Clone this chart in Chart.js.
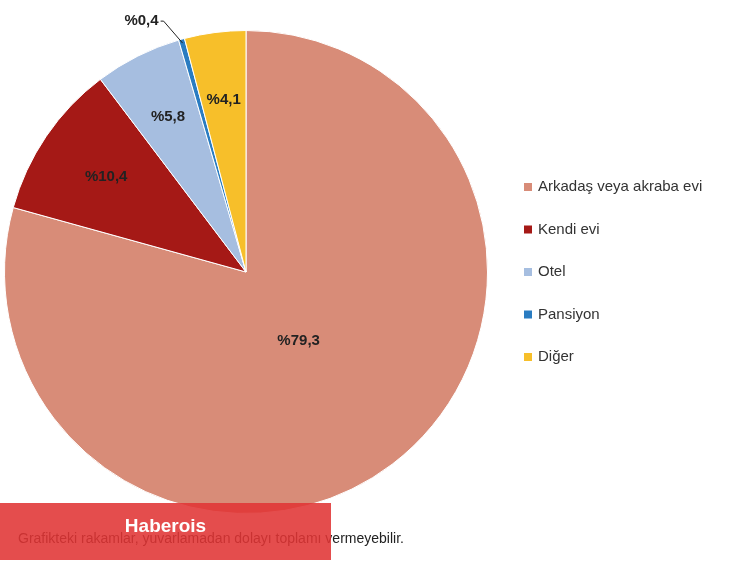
<!DOCTYPE html>
<html>
<head>
<meta charset="utf-8">
<script src="https://cdn.jsdelivr.net/npm/chart.js@4"></script>
<style>
  body { margin: 0; background: #fff; }
  #wrap { position: relative; width: 750px; height: 562px; }
  #note { position: absolute; left: 18px; top: 530px; font: 14px Arial, "Liberation Sans", sans-serif; color: #222; }
  #mark { position: absolute; left: 0; top: 503px; width: 331px; height: 57px; background: rgba(224, 52, 52, 0.88); }
  #mark span { position: absolute; left: 0; width: 331px; top: 12px; text-align: center; font: bold 19px Arial, "Liberation Sans", sans-serif; color: #fff; }
</style>
</head>
<body>
<div id="wrap">
  <canvas id="chartCanvas" width="750" height="562"></canvas>
  <div id="note">Grafikteki rakamlar, yuvarlamadan dolayı toplamı vermeyebilir.</div>
  <div id="mark"><span>Haberois</span></div>
</div>
<script>
// chart data
const categories = ["Arkadaş veya akraba evi", "Kendi evi", "Otel", "Pansiyon", "Diğer"];
const shares = [79.3, 10.4, 5.8, 0.4, 4.1];
const valueLabels = ["%79,3", "%10,4", "%5,8", "%0,4", "%4,1"];
const colors = ["#D88C78", "#A51916", "#A6BEE0", "#2A7CC1", "#F7BF2A"];

// slice labels
const labelPlugin = {
  id: "sliceLabels",
  afterDatasetsDraw(chart) {
    const ctx = chart.ctx;
    const arcs = chart.getDatasetMeta(0).data;
    const fractions = [0.36, 0.7, 0.72, 0, 0.72];
    ctx.save();
    ctx.font = "bold 15px Arial, 'Liberation Sans', sans-serif";
    ctx.fillStyle = "#222";
    ctx.textAlign = "center";
    ctx.textBaseline = "middle";
    arcs.forEach((arc, i) => {
      const mid = (arc.startAngle + arc.endAngle) / 2;
      if (i === 3) {
        // small slice: outside label with leader line
        const ex = arc.x + Math.cos(mid) * (arc.outerRadius - 4);
        const ey = arc.y + Math.sin(mid) * (arc.outerRadius - 4);
        ctx.strokeStyle = "#222";
        ctx.lineWidth = 1;
        ctx.beginPath();
        ctx.moveTo(ex, ey);
        ctx.lineTo(ex - 19, ey - 22);
        ctx.lineTo(ex - 22, ey - 22);
        ctx.stroke();
        ctx.textAlign = "right";
        ctx.fillText(valueLabels[i], ex - 24, ey - 22);
        ctx.textAlign = "center";
        return;
      }
      const r = arc.outerRadius * fractions[i];
      ctx.fillText(valueLabels[i], arc.x + Math.cos(mid) * r, arc.y + Math.sin(mid) * r);
    });
    ctx.restore();
  }
};

// right side legend
const legendPlugin = {
  id: "sideLegend",
  afterDraw(chart) {
    const ctx = chart.ctx;
    ctx.save();
    ctx.font = "15px Arial, 'Liberation Sans', sans-serif";
    ctx.textBaseline = "middle";
    categories.forEach((name, i) => {
      const y = 187 + i * 42.5;
      ctx.fillStyle = colors[i];
      ctx.fillRect(524, y - 4, 8, 8);
      ctx.fillStyle = "#333";
      ctx.fillText(name, 538, y);
    });
    ctx.restore();
  }
};

new Chart(document.getElementById("chartCanvas"), {
  type: "pie",
  data: {
    labels: categories,
    datasets: [{
      data: shares,
      backgroundColor: colors,
      borderColor: "#fff",
      borderWidth: 1
    }]
  },
  options: {
    responsive: false,
    animation: false,
    layout: { padding: { left: 4, right: 262, top: 30, bottom: 48 } },
    plugins: {
      legend: { display: false },
      tooltip: { enabled: false }
    }
  },
  plugins: [labelPlugin, legendPlugin]
});
</script>
</body>
</html>
